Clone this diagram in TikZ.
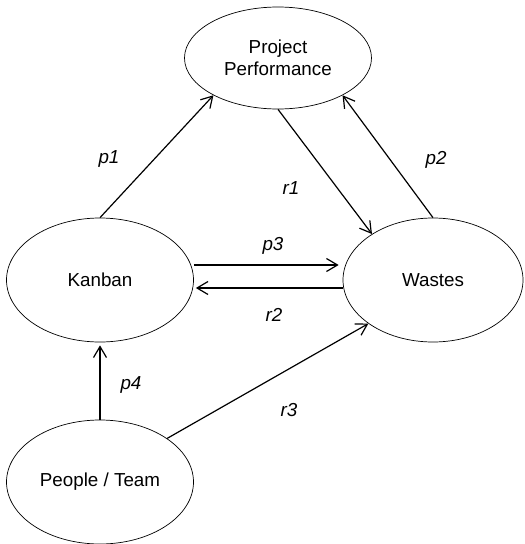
\documentclass[tikz,border=0pt]{standalone}
\usepackage{fontspec}
\setmainfont{Liberation Sans}
\usepackage{tikz}
\usetikzlibrary{shapes.geometric, arrows.meta}

\begin{document}
\begin{tikzpicture}[x=1pt, y=-1pt,
      font=\fontsize{18.8}{22}\selectfont,
      blob/.style={draw, ellipse, inner sep=0pt, line width=0.7pt,
        minimum width=187pt, minimum height=124pt, align=center},
      link/.style={-{Straight Barb[length=11pt, width=13pt, line width=1.2pt]},
        line width=1.2pt},
      lbl/.style={font=\fontsize{18.8}{22}\selectfont\itshape, inner sep=0pt}]
      \useasboundingbox (0,0) rectangle (525,544);
      \node[blob, minimum height=102pt] (perf) at (278,58) {Project\\Performance};
      \node[blob] (kanban) at (100,280) {Kanban};
      \node[blob, minimum width=180pt] (wastes) at (433,280) {Wastes};
      \node[blob] (team) at (100,482) {People / Team};
      % connectors
      \draw[link] (kanban.north) -- (perf.-150);
      \draw[link] (perf.south) -- (wastes.143);
      \draw[link] (wastes.north) -- (perf.-30);
      \draw[link] ([yshift=15pt]kanban.east) -- ([yshift=15pt,xshift=-4pt]wastes.west);
      \draw[link] ([yshift=-8pt]wastes.west) -- ([yshift=-8pt,xshift=2pt]kanban.east);
      \draw[link] (team.north) -- ([yshift=-3pt]kanban.south);
      \draw[link] (team.33) -- (wastes.214);
      % labels
      \node[lbl] (lp1) at (109,159) {p1};
      \node[lbl] (lp2) at (436,160) {p2};
      \node[lbl] (lr1) at (291,188) {r1};
      \node[lbl] (lp3) at (273,246) {p3};
      \node[lbl] (lr2) at (274,315) {r2};
      \node[lbl] (lp4) at (131,385) {p4};
      \node[lbl] (lr3) at (289,410) {r3};
    \end{tikzpicture}
\end{document}
